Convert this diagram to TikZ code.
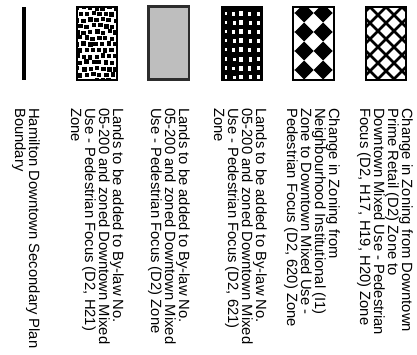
\documentclass[tikz,border=0pt]{standalone}
\usepackage{fontspec}
\setmainfont{Liberation Sans}
\definecolor{swgray}{RGB}{190,190,190}
\definecolor{swedge}{RGB}{45,45,45}
\begin{document}
\begin{tikzpicture}[x=1pt,y=-1pt,
  lbl/.style={rotate=-90, anchor=north west, inner sep=0pt, align=left,
    font=\fontsize{14.8}{14}\selectfont},
  swatch/.style={draw=black, line width=2pt},
  hatch/.style={line width=2.8pt, line cap=butt}]
\useasboundingbox (0,0) rectangle (417,354);

% boundary line
\fill (22,6.5) rectangle (26,79.5);

% swatch 2: scattered squares
\begin{scope}
  \clip (77,6.5) rectangle (117,79.5);
  \pgfmathsetseed{7}
  \foreach \r in {0,...,12} {
    \foreach \c in {0,...,6} {
      \pgfmathsetmacro{\xx}{77 + \c*6.4 + mod(\r,2)*3.2 - 2 + rand*1.1}
      \pgfmathsetmacro{\yy}{6.5 + \r*6.1 - 1 + rand*1.1}
      \fill (\xx,\yy) rectangle ++(4.4,4.4);
    }
  }
\end{scope}
\draw[swatch] (77,6.5) rectangle (117,79.5);

% swatch 3: gray
\filldraw[fill=swgray, draw=swedge, line width=2.4pt] (148.5,6.5) rectangle (189,79.5);

% swatch 4: black with white squares
\fill (222,6.5) rectangle (262,79.5);
\foreach \r in {0,...,7} {
  \pgfmathsetmacro{\yy}{11.5 + \r*9.1}
  \pgfmathsetmacro{\sh}{mod(\r,2)*1}
  \fill[white] (224.5,\yy) rectangle ++(2,3.5);
  \fill[white] (232+\sh,\yy+0.5) rectangle ++(2.5,3.5);
  \fill[white] (238.5,\yy-0.5) rectangle ++(4.5,5);
  \fill[white] (248+\sh,\yy) rectangle ++(3,4.5);
  \fill[white] (257,\yy) rectangle ++(2.5,4);
}
\draw[swatch] (222,6.5) rectangle (262,79.5);

% swatch 5: diamond checker
\begin{scope}
  \clip (293,6.5) rectangle (334,79.5);
  \foreach \i in {-1,...,3} {
    \foreach \j in {-1,...,5} {
      \pgfmathsetmacro{\cx}{304 + 19*\i}
      \pgfmathsetmacro{\cy}{13 + 19*\j}
      \fill (\cx,\cy) +(-9.5,0) -- +(0,-9.5) -- +(9.5,0) -- +(0,9.5) -- cycle;
    }
  }
\end{scope}
\draw[swatch] (293,6.5) rectangle (334,79.5);

% swatch 6: crosshatch
\begin{scope}
  \clip (366,6.5) rectangle (406,79.5);
  \foreach \k in {-6,...,6} {
    \draw[hatch] (386+16*\k,7) ++(-100,-100) -- ++(200,200);
    \draw[hatch] (386+16*\k,7) ++(-100,100) -- ++(200,-200);
  }
\end{scope}
\draw[swatch] (366,6.5) rectangle (406,79.5);

% labels
\node[lbl] (t1) at (40,108) {Hamilton Downtown Secondary Plan\\Boundary};
\node[lbl] (t2) at (124,108) {Lands to be added to By-law No.\\05-200 and zoned Downtown Mixed\\Use - Pedestrian Focus (D2, H21)\\Zone};
\node[lbl] (t3) at (190,108) {Lands to be added to By-law No.\\05-200 and zoned Downtown Mixed\\Use - Pedestrian Focus (D2) Zone};
\node[lbl] (t4) at (267,108) {Lands to be added to By-law No.\\05-200 and zoned Downtown Mixed\\Use - Pedestrian Focus (D2, 621)\\Zone};
\node[lbl] (t5) at (340,108) {Change in Zoning from\\Neighbourhood Institutional (I1)\\Zone to Downtown Mixed Use -\\Pedestrian Focus (D2, 620) Zone};
\node[lbl] (t6) at (413,108) {Change in Zoning from Downtown\\Prime Retail (D2) Zone to\\Downtown Mixed Use - Pedestrian\\Focus (D2, H17, H19, H20) Zone};
\end{tikzpicture}
\end{document}
